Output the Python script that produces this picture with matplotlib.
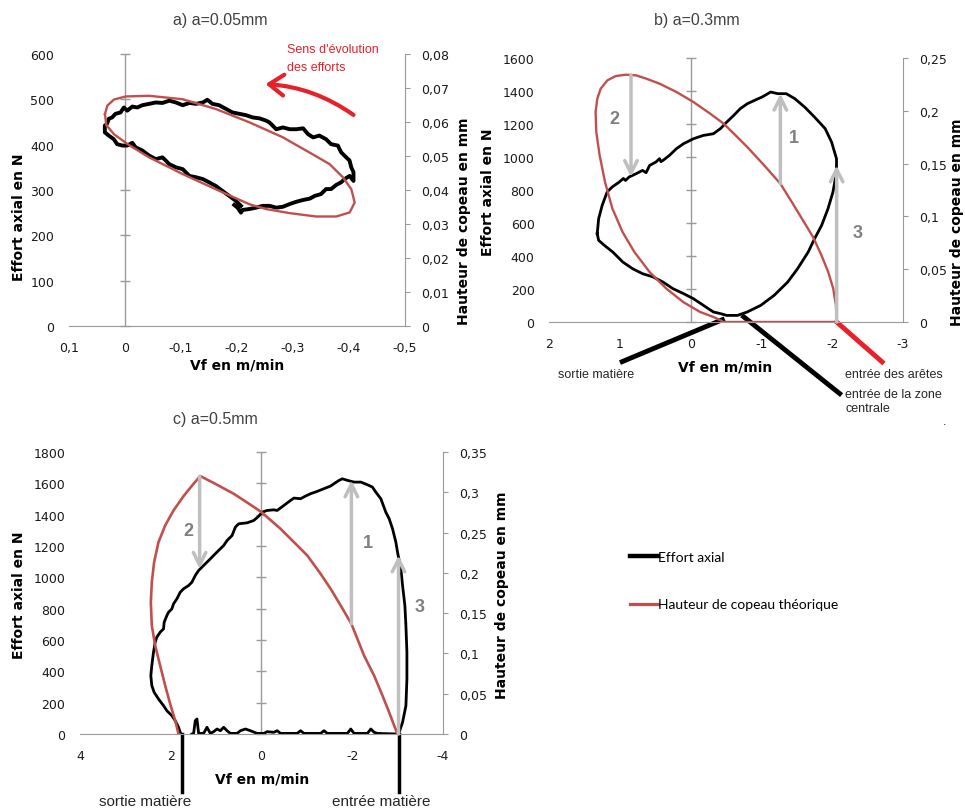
import matplotlib
matplotlib.use("Agg")
import matplotlib.pyplot as plt
from matplotlib.lines import Line2D
from matplotlib.patches import FancyArrowPatch

# ---------------- panel a : a=0.05mm ----------------
a_vf = [-0.195, -0.201, -0.207, -0.210, -0.222, -0.234, -0.246, -0.258, -0.270, -0.282,
        -0.294, -0.306, -0.318, -0.330, -0.339, -0.350, -0.359, -0.368, -0.377, -0.386,
        -0.392, -0.401, -0.408, -0.408, -0.404, -0.401, -0.395, -0.386, -0.380, -0.368,
        -0.359, -0.347, -0.336, -0.327, -0.318, -0.306, -0.294, -0.282, -0.270, -0.258,
        -0.252, -0.240, -0.228, -0.216, -0.204, -0.192, -0.180, -0.168, -0.156, -0.147,
        -0.139, -0.127, -0.115, -0.103, -0.091, -0.079, -0.067, -0.055, -0.043, -0.031,
        -0.022, -0.013, -0.004, 0.002, 0.008, 0.017, 0.023, 0.029, 0.032, 0.036,
        0.036, 0.029, 0.020, 0.014, 0.005, -0.004, -0.013, -0.019, -0.031, -0.043,
        -0.055, -0.067, -0.079, -0.091, -0.103, -0.115, -0.127, -0.139, -0.150, -0.162,
        -0.174, -0.186, -0.198, -0.207]
a_effort = [267, 261, 250, 256, 258, 261, 265, 265, 261, 263,
            269, 274, 278, 281, 287, 291, 302, 302, 311, 317,
            324, 331, 320, 339, 350, 365, 372, 383, 398, 401,
            412, 420, 416, 423, 436, 434, 434, 438, 434, 449,
            453, 458, 460, 465, 468, 471, 479, 487, 490, 499,
            493, 490, 492, 487, 493, 497, 492, 493, 490, 487,
            482, 484, 475, 482, 471, 468, 460, 457, 446, 442,
            427, 420, 412, 401, 398, 398, 404, 394, 387, 376,
            368, 372, 357, 350, 346, 331, 328, 324, 317, 309,
            298, 287, 276, 265]
a_h_vf = [0.0358, 0.0316, 0.0197, -0.0012, -0.0430, -0.1027, -0.1624, -0.2221, -0.2818,
          -0.3296, -0.3654, -0.3893, -0.4042, -0.4101, -0.4012, -0.3773, -0.3415, -0.2937,
          -0.2519, -0.2221, -0.1624, -0.1027, -0.0430, -0.0072, 0.0197, 0.0334, 0.0358]
a_h = [0.0623, 0.0648, 0.0666, 0.0675, 0.0677, 0.0667, 0.0638, 0.0599, 0.0555,
       0.0510, 0.0476, 0.0437, 0.0402, 0.0363, 0.0334, 0.0322, 0.0322, 0.0332,
       0.0344, 0.0358, 0.0402, 0.0447, 0.0496, 0.0532, 0.0564, 0.0591, 0.0623]
a_xticks = [0.1, 0, -0.1, -0.2, -0.3, -0.4, -0.5]
a_yticks = [0, 100, 200, 300, 400, 500, 600]
a_hticks = [0, 0.01, 0.02, 0.03, 0.04, 0.05, 0.06, 0.07, 0.08]

# ---------------- panel b : a=0.3mm ----------------
b_vf = [1.32, 1.30, 1.25, 1.18, 1.11, 1.01, 0.95, 0.92, 0.87, 0.77, 0.68, 0.63, 0.58, 0.49,
        0.44, 0.42, 0.39, 0.30, 0.20, 0.10, -0.04, -0.18, -0.32, -0.42, -0.51, -0.61, -0.70,
        -0.80, -0.90, -1.01, -1.13, -1.23, -1.35, -1.47, -1.61, -1.75, -1.90, -1.99, -2.06,
        -2.06, -2.01, -1.94, -1.85, -1.75, -1.66, -1.51, -1.37, -1.18, -0.99, -0.80, -0.66,
        -0.51, -0.42, -0.32, -0.18, -0.04, 0.10, 0.25, 0.39, 0.53, 0.68, 0.82, 0.96, 1.10,
        1.22, 1.30, 1.32]
b_effort = [535, 626, 707, 788, 818, 848, 870, 858, 879, 899, 919, 905, 949, 970,
            990, 972, 980, 1010, 1051, 1081, 1111, 1131, 1141, 1172, 1212, 1253, 1293,
            1323, 1343, 1364, 1394, 1384, 1384, 1354, 1303, 1242, 1172, 1091, 990,
            909, 788, 687, 586, 505, 424, 323, 242, 162, 101, 61, 40,
            40, 51, 61, 101, 141, 172, 202, 242, 273, 293, 323, 364, 424,
            465, 495, 535]
b_h_vf = [-2.062, -2.052, -2.014, -1.943, -1.848, -1.729, -1.586, -1.443, -1.267, -1.038,
          -0.800, -0.610, -0.467, -0.276, -0.038, 0.200, 0.438, 0.629, 0.771, 0.914, 1.057,
          1.176, 1.271, 1.319, 1.343, 1.333, 1.286, 1.210, 1.105, 0.962, 0.795, 0.581,
          0.343, 0.105, -0.133, -0.324, -0.467, -2.062]
b_h = [0, 0.0158, 0.0316, 0.0474, 0.0631, 0.0805, 0.0963, 0.1121, 0.1310, 0.1484,
       0.1657, 0.1784, 0.1878, 0.1973, 0.2084, 0.2178, 0.2257, 0.2305, 0.2336, 0.2342, 0.2330,
       0.2289, 0.2210, 0.2115, 0.1989, 0.1799, 0.1579, 0.1326, 0.1073, 0.0852, 0.0663, 0.0474,
       0.0316, 0.0189, 0.0095, 0.0047, 0, 0]
b_xticks = [2, 1, 0, -1, -2, -3]
b_yticks = [0, 200, 400, 600, 800, 1000, 1200, 1400, 1600]
b_hticks = [0, 0.05, 0.1, 0.15, 0.2, 0.25]
# gray arrows: (vf, effort start, effort end)
b_arrows = [(0.843, 1499, 879), (-1.267, 838, 1384), (-2.062, 0, 949)]
b_numbers = [("2", 1.081, 1232), ("1", -1.452, 1121), ("3", -2.362, 545)]

# ---------------- panel c : a=0.5mm ----------------
c_vf = [1.791, 1.828, 1.901, 1.975, 2.085, 2.159, 2.270, 2.365, 2.417, 2.439, 2.417, 2.380,
        2.343, 2.307, 2.233, 2.159, 2.144, 2.085, 2.049, 1.975, 1.938, 1.864, 1.791, 1.717,
        1.606, 1.533, 1.459, 1.385, 1.312, 1.201, 1.127, 1.054, 0.943, 0.833, 0.759, 0.648,
        0.575, 0.501, 0.317, 0.169, 0.059, -0.015, -0.125, -0.273, -0.346, -0.494, -0.641,
        -0.715, -0.862, -0.973, -1.083, -1.231, -1.378, -1.525, -1.599, -1.710, -1.783,
        -1.894, -2.041, -2.189, -2.336, -2.447, -2.520, -2.631, -2.741, -2.815, -2.889,
        -2.962, -2.999, -3.073, -3.110, -3.161, -3.184, -3.206, -3.206, -3.184, -3.110,
        -3.036, -2.999, -2.557, -2.483, -2.410, -2.336, -2.041, -1.968, -1.894, -1.452,
        -1.378, -1.304, -0.936, -0.862, -0.788, -0.420, -0.346, -0.273, -0.125, -0.052,
        0.096, 0.243, 0.354, 0.464, 0.538, 0.685, 0.759, 0.833, 0.906, 0.980, 1.054,
        1.127, 1.201, 1.275, 1.385, 1.422, 1.459, 1.496, 1.533]
c_effort = [11, 43, 85, 117, 149, 181, 224, 266, 309, 373, 437, 522,
            586, 618, 650, 671, 714, 756, 777, 799, 831, 863, 905, 927,
            948, 969, 1012, 1044, 1065, 1097, 1118, 1140, 1172, 1203, 1235, 1267,
            1321, 1342, 1348, 1363, 1391, 1416, 1427, 1431, 1427, 1459, 1491,
            1506, 1502, 1519, 1534, 1549, 1566, 1583, 1598, 1619, 1629,
            1619, 1608, 1608, 1591, 1576, 1544, 1502, 1416, 1374, 1310,
            1225, 1161, 1054, 948, 820, 692, 522, 351, 181, 75,
            11, 0, 4, 11, 32, 4, 4, 32, 4, 4,
            21, 4, 4, 21, 4, 4, 21, 11, 15, 4,
            4, 21, 32, 21, 4, 4, 21, 43, 21, 32, 15,
            4, 43, 4, 4, 96, 85, 4, 0]
c_h_vf = [-2.999, -2.926, -2.815, -2.668, -2.483, -2.262, -1.982, -1.746, -1.525, -1.304,
          -1.010, -0.715, -0.420, -0.125, 0, 0.243, 0.612, 0.980, 1.349, 1.496, 1.717,
          1.938, 2.122, 2.270, 2.366, 2.417, 2.439, 2.417, 2.343, 2.233, 2.122, 2.012,
          1.901, 1.828]
c_h = [0, 0.0104, 0.0269, 0.0476, 0.0725, 0.0973, 0.1367, 0.1595, 0.1802, 0.1988,
       0.2216, 0.2382, 0.2547, 0.2692, 0.2754, 0.2846, 0.2982, 0.3094, 0.3202, 0.3106, 0.2953,
       0.2775, 0.2589, 0.2382, 0.2133, 0.1885, 0.1636, 0.1346, 0.1098, 0.0849, 0.0601, 0.0373,
       0.0166, 0]
c_xticks = [4, 2, 0, -2, -4]
c_yticks = [0, 200, 400, 600, 800, 1000, 1200, 1400, 1600, 1800]
c_hticks = [0, 0.05, 0.1, 0.15, 0.2, 0.25, 0.3, 0.35]
c_arrows = [(1.363, 1646, 1054), (-1.982, 703, 1619), (-3.021, 0, 1140)]
c_numbers = [("2", 1.606, 1299), ("1", -2.336, 1220), ("3", -3.478, 816)]

BLACK = "black"
RED = "#c0504d"
BRIGHT = "#e8202a"
AXIS = "#9a9a9a"
ARROW = "#bfbfbf"
NUMC = "#808080"
TXT = "#262626"
SANS = "Liberation Sans"


def fr(v):
    return f"{v:g}".replace(".", ",")


def setup(ax, xlim, yticks, xticks, hticks):
    ax.set_xlim(xlim)
    ax.set_ylim(yticks[0], yticks[-1])
    for s in ("top", "right", "left"):
        ax.spines[s].set_visible(False)
    ax.spines["bottom"].set_color(AXIS)
    ax.set_xticks(xticks, [fr(v) for v in xticks])
    ax.set_yticks(yticks, [fr(v) for v in yticks])
    ax.tick_params(axis="both", length=0, labelsize=9, colors="#1a1a1a")
    ax.tick_params(axis="x", pad=11)
    ax.tick_params(axis="y", pad=10.5)
    ax.axvline(0, color=AXIS, lw=1)
    ax.plot([0] * len(yticks), yticks, ls="none", marker="_", ms=7.5, mew=1,
            color=AXIS, clip_on=False)
    axr = ax.twinx()
    axr.set_ylim(hticks[0], hticks[-1])
    for s in ("top", "left", "bottom"):
        axr.spines[s].set_visible(False)
    axr.spines["right"].set_color(AXIS)
    axr.set_yticks(hticks, [fr(v) for v in hticks])
    axr.tick_params(axis="y", length=3.6, color=AXIS, pad=8, labelsize=9, labelcolor="#1a1a1a")
    return axr


def labels(ax, lx, ly, rx, ry, bx, by):
    kw = dict(fontsize=10, fontweight="bold", ha="center", va="center", transform=ax.transAxes)
    ax.text(lx, ly, "Effort axial en N", rotation=90, **kw)
    ax.text(rx, ry, "Hauteur de copeau en mm", rotation=90, **kw)
    ax.text(bx, by, "Vf en m/min", **kw)


def gray_arrows(ax, axr, arrows, numbers):
    for v, f0, f1 in arrows:
        axr.annotate("", xy=(v, f1), xytext=(v, f0), xycoords=ax.transData,
                     textcoords=ax.transData,
                     arrowprops=dict(arrowstyle="->,head_length=0.9,head_width=0.45",
                                     color=ARROW, lw=2.5, shrinkA=0, shrinkB=0))
    for t, v, f in numbers:
        ax.text(v, f, t, color=NUMC, fontsize=13, fontweight="bold",
                family=SANS, ha="center", va="center")


def title(x, y, s):
    fig.text(x / 965, 1 - y / 812, s, ha="center", va="center",
             fontsize=11.5, family=SANS, color="#404040")


fig = plt.figure(figsize=(9.65, 8.12), dpi=100)

# ---- a
ax = fig.add_axes([0.0715, 0.5973, 0.3482, 0.335])
axr = setup(ax, (0.1, -0.5), a_yticks, a_xticks, a_hticks)
ax.plot(a_vf, a_effort, color=BLACK, lw=2.8, solid_joinstyle="round")
axr.plot(a_h_vf, a_h, color=RED, lw=1.7)
labels(ax, -0.149, 0.404, 1.176, 0.39, 0.5, -0.143)
arr = FancyArrowPatch((-0.412, 462), (-0.246, 534), connectionstyle="arc3,rad=0.15",
                      arrowstyle="->,head_length=7,head_width=5", color=BRIGHT, lw=3,
                      mutation_scale=1.5)
axr.add_artist(arr)
arr.set_transform(ax.transData)
ax.text(-0.289, 625, "Sens d'évolution\ndes efforts", color=BRIGHT, fontsize=9,
        family=SANS, ha="left", va="top", linespacing=1.75)
title(220, 20, "a) a=0.05mm")

# ---- b
ax = fig.add_axes([0.569, 0.6022, 0.3668, 0.3251])
axr = setup(ax, (2, -3), b_yticks, b_xticks, b_hticks)
ax.plot(b_vf, b_effort, color=BLACK, lw=2.0)
axr.plot(b_h_vf, b_h, color=RED, lw=1.7)
gray_arrows(ax, axr, b_arrows, b_numbers)
labels(ax, -0.172, 0.496, 1.153, 0.383, 0.497, -0.167)
ax.plot([-0.448, 0.967], [14, -240], color=BLACK, lw=3.5, clip_on=False)
ax.plot([-0.748, -2.105], [32, -434], color=BLACK, lw=3.5, clip_on=False)
ax.plot([-2.062, -2.705], [0, -242], color=BRIGHT, lw=3.5, clip_on=False)
nk = dict(fontsize=9, family=SANS, color=TXT)
ax.text(1.333, -317, "sortie matière", ha="center", va="center", **nk)
ax.text(-2.181, -317, "entrée des arêtes", ha="left", va="center", **nk)
ax.text(-2.181, -400, "entrée de la zone\ncentrale", ha="left", va="top", **nk)
ax.text(-3.586, -602, ".", ha="center", va="center", **nk)
title(697, 20, "b) a=0.3mm")

# ---- c
ax = fig.add_axes([0.0829, 0.0948, 0.3761, 0.3473])
axr = setup(ax, (4, -4), c_yticks, c_xticks, c_hticks)
ax.plot(c_vf, c_effort, color=BLACK, lw=2.0)
axr.plot(c_h_vf, c_h, color=RED, lw=1.9)
gray_arrows(ax, axr, c_arrows, c_numbers)
labels(ax, -0.168, 0.496, 1.163, 0.496, 0.501, -0.156)
ax.plot([1.754, 1.754], [0, -373], color=BLACK, lw=2.5, clip_on=False)
ax.plot([-3.021, -3.021], [0, -373], color=BLACK, lw=2.5, clip_on=False)
ck = dict(fontsize=11, family=SANS, color=TXT, ha="center", va="center")
ax.text(2.564, -426, "sortie matière", **ck)
ax.text(-2.631, -426, "entrée matière", **ck)
title(215, 420, "c) a=0.5mm")

# ---- legend
handles = [Line2D([], [], color=BLACK, lw=3.2), Line2D([], [], color=RED, lw=2.3)]
fig.legend(handles, ["Effort axial", "Hauteur de copeau théorique"],
           loc="upper left", bbox_to_anchor=(630 / 965, 1 - 552 / 812), frameon=False,
           borderpad=0, borderaxespad=0, handlelength=2.0, handletextpad=0.05,
           labelspacing=2.55, prop={"family": "Lato", "size": 10})

fig.savefig("out.png", dpi=100)
print("wrote out.png")
